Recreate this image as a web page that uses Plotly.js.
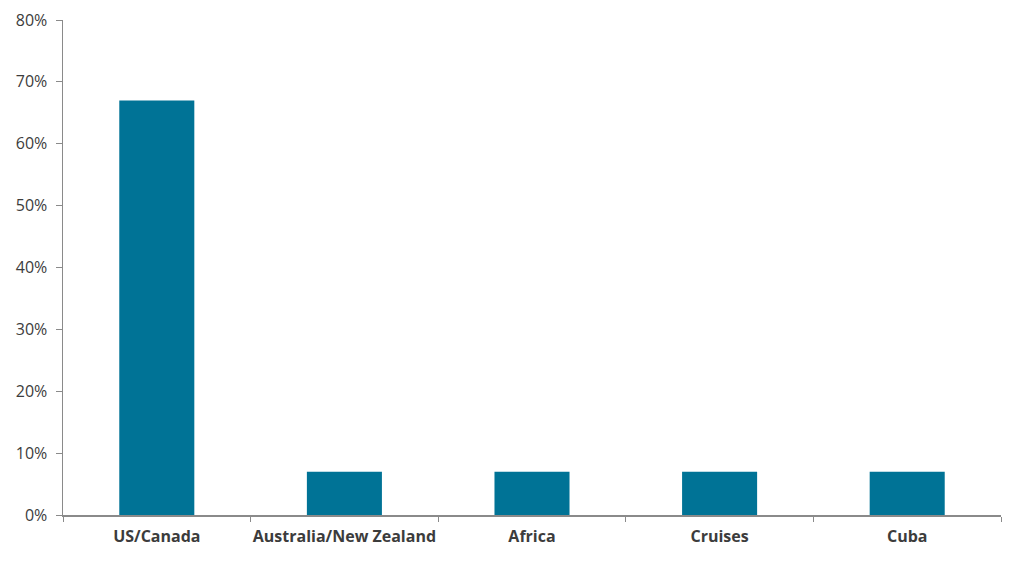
<!DOCTYPE html>
<html>
<head>
<meta charset="utf-8">
<script src="https://cdn.plot.ly/plotly-3.0.1.min.js"></script>
<style>html,body{margin:0;padding:0;background:#fff;}#chart{width:1011px;height:561px;}</style>
</head>
<body>
<div id="chart"></div>
<script>
const categories = ["US/Canada", "Australia/New Zealand", "Africa", "Cruises", "Cuba"];
const values = [0.67, 0.07, 0.07, 0.07, 0.07];
const yTickVals = [0, 0.1, 0.2, 0.3, 0.4, 0.5, 0.6, 0.7, 0.8];
const yTickText = ["0%", "10%", "20%", "30%", "40%", "50%", "60%", "70%", "80%"];

const trace = {
  type: "bar",
  x: categories,
  y: values,
  marker: {color: "#007396"},
  width: 0.4,
  hoverinfo: "x+y"
};

const layout = {
  width: 1011,
  height: 561,
  margin: {l: 63, r: 10, t: 20, b: 46},
  paper_bgcolor: "#ffffff",
  plot_bgcolor: "#ffffff",
  showlegend: false,
  font: {family: "'Open Sans', sans-serif", color: "#3c3c3c"},
  xaxis: {
    type: "category",
    showline: true,
    linecolor: "#8a8a8a",
    linewidth: 1.5,
    ticks: "outside",
    tickson: "boundaries",
    ticklen: 5,
    tickcolor: "#8a8a8a",
    tickwidth: 1,
    showgrid: false,
    tickangle: 0,
    automargin: false,
    ticklabelstandoff: 6,
    tickfont: {size: 16, color: "#3c3c3c", family: "'Open Sans', sans-serif", weight: "bold"},
    fixedrange: true
  },
  yaxis: {
    range: [0, 0.8],
    tickvals: yTickVals,
    ticktext: yTickText,
    showline: true,
    linecolor: "#8a8a8a",
    linewidth: 1.5,
    ticks: "outside",
    ticklen: 6,
    tickcolor: "#8a8a8a",
    tickwidth: 1,
    showgrid: false,
    zeroline: false,
    ticklabelstandoff: 5,
    tickfont: {size: 16, color: "#3c3c3c", family: "'Open Sans', sans-serif"},
    fixedrange: true
  }
};

Plotly.newPlot("chart", [trace], layout, {displayModeBar: false, staticPlot: true});
</script>
</body>
</html>
